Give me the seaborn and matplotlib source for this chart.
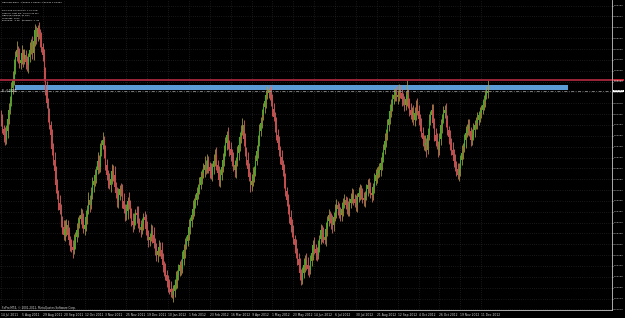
import numpy as np
import pandas as pd
import matplotlib
matplotlib.use("Agg")
import matplotlib.pyplot as plt
import matplotlib.transforms as mtransforms
import seaborn as sns

# ---------------- data (prices in pips above 1.5000) ----------------
first_open = 1130
closes = [
    1104, 1060, 1030, 1004, 1050, 1110, 1154, 1200, 1265, 1304,
    1370, 1420, 1454, 1430, 1390, 1404, 1440, 1410, 1429, 1395,
    1379, 1420, 1455, 1479, 1440, 1500, 1554, 1520, 1564, 1535,
    1504, 1470, 1429, 1340, 1254, 1190, 1129, 1080, 1029, 960,
    904, 850, 779, 735, 690, 654, 600, 570, 529, 560,
    579, 530, 505, 479, 470, 454, 490, 520, 554, 590,
    610, 629, 600, 560, 579, 620, 660, 704, 680, 740,
    779, 800, 830, 854, 900, 870, 954, 980, 1004, 950,
    879, 830, 800, 779, 810, 850, 829, 770, 740, 704,
    730, 760, 754, 700, 660, 629, 650, 700, 679, 640,
    600, 579, 610, 640, 629, 590, 570, 554, 585, 620,
    604, 560, 530, 504, 520, 550, 529, 490, 460, 429,
    450, 470, 454, 410, 380, 354, 330, 300, 279, 260,
    245, 229, 250, 280, 304, 330, 350, 379, 360, 410,
    454, 480, 500, 529, 570, 600, 629, 660, 690, 704,
    740, 760, 779, 820, 840, 854, 880, 860, 904, 870,
    850, 829, 870, 900, 929, 880, 840, 804, 830, 870,
    904, 950, 990, 1029, 980, 960, 929, 900, 880, 854,
    900, 940, 979, 1020, 1050, 1079, 1010, 950, 904, 860,
    820, 779, 800, 830, 854, 900, 950, 1004, 1050, 1090,
    1129, 1170, 1200, 1229, 1240, 1254, 1230, 1204, 1160, 1120,
    1079, 1030, 990, 954, 920, 880, 854, 800, 750, 704,
    660, 620, 579, 540, 510, 479, 440, 410, 379, 340,
    304, 340, 380, 404, 380, 360, 354, 400, 440, 479,
    460, 440, 429, 470, 510, 554, 530, 520, 504, 560,
    600, 629, 610, 590, 579, 620, 650, 679, 660, 640,
    629, 660, 690, 704, 680, 670, 654, 690, 710, 729,
    710, 690, 679, 720, 740, 754, 730, 715, 704, 730,
    760, 779, 760, 740, 729, 770, 800, 829, 840, 850,
    854, 890, 920, 954, 1000, 1040, 1079, 1110, 1150, 1179,
    1210, 1230, 1244, 1220, 1229, 1250, 1239, 1210, 1200, 1179,
    1210, 1229, 1190, 1154, 1130, 1150, 1104, 1140, 1179, 1150,
    1110, 1079, 1040, 1010, 979, 990, 954, 1030, 1104, 1130,
    1154, 1090, 1029, 1000, 980, 954, 1010, 1079, 1110, 1140,
    1154, 1100, 1054, 1020, 990, 954, 930, 900, 879, 860,
    829, 860, 904, 940, 970, 1004, 1040, 1060, 1079, 1050,
    1004, 1030, 1054, 1080, 1090, 1104, 1130, 1140, 1154, 1180,
    1200, 1229, 1240, 1249,
]
wick_up = [
    25, 32, 18, 40, 28, 20, 35, 24, 30, 45,
    38, 28, 45, 20, 32, 24, 40, 18, 30, 24,
    30, 20, 38, 28, 45, 24, 32, 20, 15, 28,
    24, 40, 20, 32, 28, 45, 24, 35, 20, 30,
    28, 40, 24, 32, 20, 38, 28, 24, 35, 45,
    30, 24, 40, 20, 28, 32, 45, 24, 35, 28,
    20, 35, 28, 40, 24, 32, 20, 42, 24, 30,
    38, 24, 30, 20, 45, 28, 35, 24, 38, 20,
    28, 32, 24, 40, 20, 35, 28, 45, 24, 30,
    35, 20, 30, 28, 40, 24, 32, 20, 42, 24,
    24, 40, 28, 20, 32, 45, 24, 35, 28, 20,
    30, 28, 40, 24, 20, 35, 28, 38, 24, 30,
    20, 32, 24, 40, 28, 20, 35, 24, 30, 28,
    38, 20, 30, 28, 45, 24, 35, 20, 28, 38,
    28, 35, 24, 30, 40, 20, 28, 45, 24, 30,
    30, 24, 38, 28, 20, 35, 45, 24, 30, 20,
    24, 40, 20, 32, 28, 38, 24, 35, 28, 30,
    35, 28, 30, 20, 40, 24, 32, 28, 45, 24,
    20, 32, 40, 24, 28, 35, 24, 30, 20, 38,
    28, 24, 32, 40, 20, 30, 28, 24, 35, 28,
    30, 20, 28, 24, 35, 10, 24, 38, 28, 30,
    24, 38, 28, 32, 20, 35, 24, 28, 40, 20,
    30, 24, 35, 28, 40, 20, 30, 24, 28, 35,
    20, 28, 32, 24, 35, 40, 20, 30, 28, 24,
    38, 24, 28, 35, 20, 30, 24, 40, 28, 32,
    24, 30, 20, 28, 40, 24, 35, 28, 20, 30,
    28, 35, 24, 32, 20, 38, 28, 24, 30, 35,
    30, 24, 40, 20, 28, 32, 24, 35, 28, 20,
    24, 28, 35, 32, 24, 20, 40, 28, 30, 24,
    35, 30, 24, 28, 40, 20, 32, 24, 35, 28,
    24, 30, 20, 28, 24, 35, 28, 20, 30, 24,
    38, 75, 28, 24, 35, 20, 30, 28, 24, 35,
    28, 24, 35, 30, 20, 40, 24, 32, 28, 20,
    30, 28, 24, 35, 40, 20, 28, 30, 24, 35,
    24, 35, 28, 20, 32, 24, 38, 28, 35, 20,
    28, 30, 24, 40, 20, 28, 35, 24, 30, 28,
    20, 28, 35, 24, 30, 38, 20, 28, 24, 30,
    30, 24, 35, 55,
]
wick_dn = [
    30, 20, 38, 24, 18, 35, 28, 20, 24, 30,
    24, 35, 20, 40, 28, 32, 20, 42, 24, 35,
    28, 40, 24, 20, 32, 35, 24, 38, 20, 28,
    35, 24, 30, 40, 24, 28, 35, 20, 38, 30,
    24, 32, 40, 28, 35, 20, 30, 38, 24, 28,
    35, 20, 28, 32, 24, 40, 20, 30, 28, 35,
    28, 24, 35, 20, 30, 28, 38, 24, 35, 20,
    30, 35, 24, 40, 20, 30, 24, 28, 20, 38,
    24, 28, 38, 20, 35, 24, 30, 20, 28, 35,
    38, 24, 28, 35, 20, 30, 24, 40, 20, 28,
    28, 35, 20, 30, 38, 24, 28, 35, 20, 30,
    20, 30, 24, 35, 28, 20, 38, 24, 30, 28,
    35, 24, 30, 20, 38, 28, 24, 30, 35, 24,
    28, 15, 35, 30, 20, 38, 28, 24, 30, 20,
    30, 38, 20, 28, 24, 35, 30, 20, 38, 28,
    24, 30, 28, 20, 38, 24, 35, 28, 20, 30,
    35, 20, 30, 38, 24, 28, 20, 30, 35, 24,
    28, 30, 24, 35, 20, 38, 28, 24, 30, 35,
    38, 24, 35, 28, 30, 20, 38, 28, 24, 30,
    20, 35, 28, 24, 38, 30, 20, 35, 28, 24,
    28, 24, 30, 35, 20, 28, 24, 30, 38, 20,
    35, 28, 24, 30, 38, 20, 28, 35, 24, 30,
    24, 30, 35, 20, 28, 38, 24, 30, 20, 35,
    25, 20, 28, 38, 24, 30, 35, 20, 28, 38,
    24, 35, 30, 20, 28, 24, 38, 30, 20, 28,
    35, 24, 20, 30, 38, 28, 20, 35, 30, 24,
    28, 30, 38, 24, 20, 35, 28, 30, 24, 20,
    30, 20, 28, 35, 24, 38, 20, 28, 30, 35,
    24, 38, 20, 28, 35, 24, 30, 20, 38, 28,
    30, 28, 35, 24, 20, 30, 38, 28, 24, 30,
    28, 24, 30, 20, 35, 28, 24, 38, 20, 30,
    24, 35, 28, 30, 20, 38, 24, 28, 35, 20,
    30, 28, 20, 38, 24, 30, 35, 20, 28, 24,
    35, 24, 30, 28, 20, 35, 24, 30, 38, 20,
    28, 30, 24, 35, 38, 24, 20, 30, 28, 35,
    20, 28, 35, 24, 30, 28, 38, 20, 30, 24,
    30, 24, 28, 35, 20, 30, 24, 38, 28, 20,
    24, 30, 20, 28,
]
date_labels = ["14 Jul 2011", "5 Aug 2011", "29 Aug 2011", "20 Sep 2011", "12 Oct 2011",
               "3 Nov 2011", "25 Nov 2011", "19 Dec 2011", "10 Jan 2012", "1 Feb 2012",
               "23 Feb 2012", "16 Mar 2012", "9 Apr 2012", "1 May 2012", "23 May 2012",
               "14 Jun 2012", "6 Jul 2012", "30 Jul 2012", "21 Aug 2012", "12 Sep 2012",
               "4 Oct 2012", "26 Oct 2012", "19 Nov 2012", "11 Dec 2012"]
label_every = 16
resist_price = 1.63040
zone_top, zone_bot = 1.62790, 1.62540
zone_start, zone_end = 10.7, 434.5
bid_price = 1.62494
header = "GBPUSD,Daily  1.62930 1.63067 1.62440 1.62494"
info_lines = ["Pip value per One lot: 1.00 USD",
              "Time for next bar: 19 min 52 sec",
              "GBPUSD Spread: 31 pips",
              "Leverage: 1000",
              "BuySwap: -0.48   SellSwap: -1.99"]
copyright_txt = "FxPro MT4, \u00a9 2001-2012, MetaQuotes Software Corp."

# ---------------- build OHLC table ----------------
n = min(len(closes), len(wick_up), len(wick_dn))
c = np.array(closes[:n], float)
o = np.concatenate([[first_open], c[:-1]])
hi = np.maximum(o, c) + np.array(wick_up[:n])
lo = np.minimum(o, c) - np.array(wick_dn[:n])
df = pd.DataFrame({"i": np.arange(n),
                   "open": 1.5 + o / 1e4, "close": 1.5 + c / 1e4,
                   "high": 1.5 + hi / 1e4, "low": 1.5 + lo / 1e4})
df["up"] = df["close"] >= df["open"]

# ---------------- style ----------------
sns.set_theme(style="dark", rc={"axes.facecolor": "black", "figure.facecolor": "black",
                                "savefig.facecolor": "black", "axes.grid": False})
plt.rcParams['font.family'] = ['DejaVu Sans']

W, H = 625, 318
fig = plt.figure(figsize=(W / 100, H / 100), dpi=100)
ax = fig.add_axes([0, 8 / H, 612 / W, 310 / H])
ax.set_facecolor("black")

x_lo, x_hi = -1 / 1.305, 611 / 1.305
y_lo, y_hi = 1.5154, 1.6704
ax.set_xlim(x_lo, x_hi)
ax.set_ylim(y_lo, y_hi)

# grid (MT4 dotted)
step = 0.005425
yt = y_lo + 0.0003 + step * np.arange(0, 40)
yt = yt[yt < y_hi - 0.001]
xt = np.arange(len(date_labels)) * label_every
for yv in yt:
    ax.axhline(yv, color="#3c3c3c", lw=0.45, ls=(0, (1, 2.5)), zorder=0)
for xv in xt:
    ax.axvline(xv, color="#3c3c3c", lw=0.45, ls=(0, (1, 2.5)), zorder=0)

# zone rectangle (background object)
ax.fill_between([zone_start, zone_end], zone_bot, zone_top, color="#5b9bd5", lw=0, zorder=1)

# candles
up = df[df.up]
dn = df[~df.up]
ax.vlines(up.i, up.low, up.high, colors="#b0a040", lw=0.55, zorder=2)
ax.vlines(dn.i, dn.low, dn.high, colors="#e07070", lw=0.55, zorder=2)
bh = (df.close - df.open).abs().clip(lower=0.0004)
bot = df[["open", "close"]].min(axis=1)
ax.bar(df.i[df.up], bh[df.up], bottom=bot[df.up], width=0.72, color="#2eb82e", lw=0, zorder=3)
ax.bar(df.i[~df.up], bh[~df.up], bottom=bot[~df.up], width=0.72, color="#d94444", lw=0, zorder=3)

# horizontal lines
ax.axhline(resist_price, color="#a8283c", lw=1.3, zorder=4)
ax.axhline(bid_price, color="#9a9a9a", lw=0.55, ls=(0, (4, 2, 1, 2)), zorder=4)

# spines
for s in ["top", "left"]:
    ax.spines[s].set_visible(False)
for s in ["right", "bottom"]:
    ax.spines[s].set_visible(True)
    ax.spines[s].set_color("#c8c8c8")
    ax.spines[s].set_linewidth(0.6)

# ticks
ax.yaxis.tick_right()
ax.set_yticks(yt)
ax.set_yticklabels([f"{v:.5f}" for v in yt])
ax.set_xticks(xt)
ax.set_xticklabels(date_labels)
ax.tick_params(axis="y", colors="#d8d8d8", labelsize=1.75, length=1.0, width=0.4, pad=0.5)
ax.tick_params(axis="x", colors="#d8d8d8", labelsize=2.2, length=1.5, width=0.4, pad=0.6)
for lbl in ax.get_xticklabels():
    lbl.set_ha("left")
ax.set_xlabel("")
ax.set_ylabel("")

# price markers on the axis
trans = mtransforms.blended_transform_factory(ax.transAxes, ax.transData)
ax.text(1.003, resist_price, f"{resist_price:.5f}", transform=trans, fontsize=1.75,
        color="white", va="center", ha="left", clip_on=False, zorder=6,
        bbox=dict(boxstyle="square,pad=0.2", fc="#c02030", ec="none"))
ax.text(1.003, bid_price, f"{bid_price:.5f}", transform=trans, fontsize=1.75,
        color="black", va="center", ha="left", clip_on=False, zorder=6,
        bbox=dict(boxstyle="square,pad=0.2", fc="white", ec="none"))
ax.text(0.003, bid_price + 0.0002, "PL: 0.00000", transform=trans, fontsize=1.8,
        color="white", va="center", ha="left", zorder=6)

# header / info text
fig.text(2 / W, 1 - 2.7 / H, header, fontsize=1.7, color="white", va="center", ha="left")
for k, t in enumerate(info_lines):
    fig.text(2 / W, 1 - (10.7 + 2.5 * k) / H, t, fontsize=1.6, color="white",
             va="center", ha="left")
fig.text(2 / W, 1 - 308.5 / H, copyright_txt, fontsize=2.0, color="#d8d8d8",
         va="center", ha="left")

fig.savefig("out.png", dpi=100, facecolor="black")
